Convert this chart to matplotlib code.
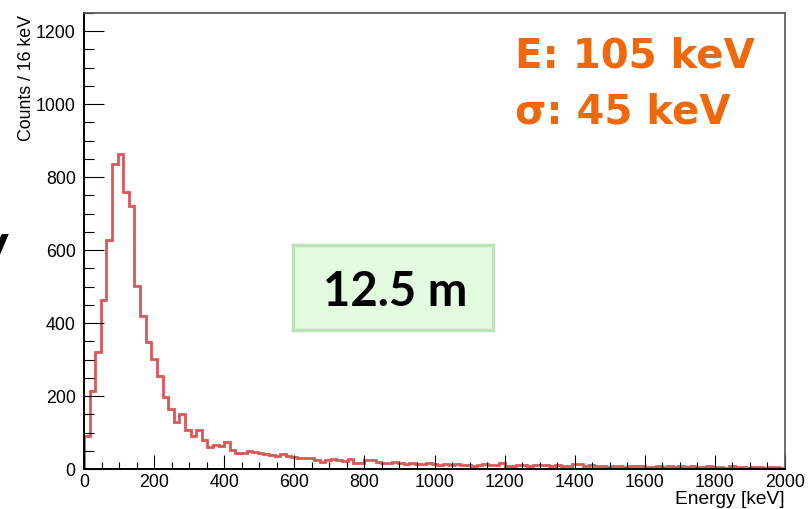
"""Energy spectrum at 12.5 m, ROOT-style step histogram."""

import numpy as np
import matplotlib.pyplot as plt
from matplotlib.ticker import MultipleLocator
from matplotlib.patches import FancyBboxPatch

# counts per 16 keV bin, 0-2000 keV (125 bins)
counts_peak = [90, 214, 321, 463, 627, 837, 863, 758, 722, 501,
               419, 347, 302, 255, 198, 164, 130, 151, 108, 90,
               107, 79, 61, 66, 63, 75, 52, 43, 43, 50,
               47, 43, 41, 38, 36, 41, 36, 34, 29, 31,
               29, 26, 20, 24, 28, 26, 21, 28, 16, 17,
               24, 24, 20, 16, 16, 18]
counts_tail = [16, 14, 17, 15, 13, 16, 14,
               12, 15, 11, 13, 10, 12, 9, 11,
               14, 10, 12, 17, 9, 8, 11, 10,
               9, 12, 10, 11, 8, 12, 9, 7,
               14, 14, 9, 10, 8, 7, 6, 8,
               7, 6, 9, 7, 8, 6, 5, 7,
               6, 8, 5, 7, 6, 9, 5, 6,
               8, 5, 6, 4, 7, 6, 5, 4,
               6, 5, 4, 6, 5, 4]
counts = np.array(counts_peak + counts_tail, dtype=float)
bin_width = 16
edges = np.arange(len(counts) + 1) * bin_width

x_ticks = [0, 200, 400, 600, 800, 1000, 1200, 1400, 1600, 1800, 2000]
y_ticks = [0, 200, 400, 600, 800, 1000, 1200]

energy_label = "E: 105 keV"
sigma_label = "σ: 45 keV"
distance_label = "12.5 m"

plt.rcParams["font.family"] = ["Liberation Sans", "DejaVu Sans"]

fig = plt.figure(figsize=(8.09, 5.09), dpi=100)
ax = fig.add_axes([84 / 809, 40 / 509, 701 / 809, 456 / 509])

ax.stairs(counts, edges, color="#dc5656", linewidth=2.0)

ax.set_xlim(0, 2000)
ax.set_ylim(0, 1250)
ax.set_xticks(x_ticks)
ax.set_yticks(y_ticks)
ax.xaxis.set_minor_locator(MultipleLocator(50))
ax.yaxis.set_minor_locator(MultipleLocator(50))
ax.tick_params(axis="x", which="major", direction="in", length=10, width=0.8,
               labelsize=12.8, pad=3.5)
ax.tick_params(axis="x", which="minor", direction="in", length=5, width=0.8)
ax.tick_params(axis="y", which="major", direction="in", length=14.4, width=0.8,
               labelsize=12.8, pad=6)
ax.tick_params(axis="y", which="minor", direction="in", length=7.2, width=0.8)
for side in ["top", "right"]:
    ax.spines[side].set_linewidth(1.2)
    ax.spines[side].set_color("#555555")
ax.spines["left"].set_linewidth(1.4)
ax.spines["bottom"].set_linewidth(1.4)

fig.text(27 / 809, 1 - 15 / 509, "Counts / 16 keV", rotation=90,
         ha="center", va="top", fontsize=12.8)
fig.text(785 / 809, 1 - 499 / 509, "Energy [keV]", ha="right",
         va="center", fontsize=13.8)

orange = "#f0680c"
fig.text(515 / 809, 1 - 57 / 509, energy_label, color=orange,
         fontsize=29, fontweight="bold", family=["DejaVu Sans"],
         ha="left", va="center")
fig.text(515 / 809, 1 - 112 / 509, sigma_label, color=orange,
         fontsize=29, fontweight="bold", family=["DejaVu Sans"],
         ha="left", va="center")

# green label box
box = FancyBboxPatch((293 / 809, 1 - 330 / 509), 200 / 809, 85 / 509,
                     boxstyle="square,pad=0", transform=fig.transFigure,
                     facecolor="#e3fce0", edgecolor="#bfe2ba", linewidth=2.5)
fig.add_artist(box)
fig.text(395 / 809, 1 - 292 / 509, distance_label, color="black",
         fontsize=34, fontweight="bold", family=["Lato", "DejaVu Sans"],
         ha="center", va="center")

# cut-off slide letter at the left edge
fig.text(-22 / 809, 1 - 248 / 509, "y", color="black", fontsize=42,
         fontweight="bold", family=["Lato", "DejaVu Sans"],
         ha="left", va="center")

fig.savefig("out.png", dpi=100)
